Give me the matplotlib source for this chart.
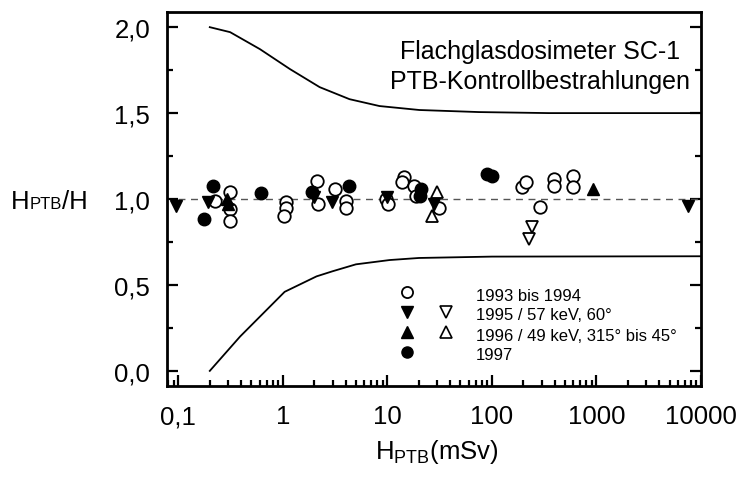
import matplotlib
matplotlib.use('Agg')
import matplotlib.pyplot as plt
from matplotlib.ticker import FixedLocator, FixedFormatter, LogLocator, MultipleLocator, NullFormatter
import numpy as np

plt.rcParams['font.family'] = ['Liberation Sans', 'DejaVu Sans']
plt.rcParams['mathtext.fontset'] = 'custom'
plt.rcParams['mathtext.rm'] = 'Liberation Sans'
plt.rcParams['mathtext.it'] = 'Liberation Sans'

# Tolerance limits (trumpet curve)
upper_h = [0.2, 0.313, 0.604, 1.17, 2.25, 4.34, 8.4, 20.2, 75, 350, 10000]
upper_v = [2.0, 1.971, 1.872, 1.756, 1.651, 1.581, 1.541, 1.518, 1.506, 1.5, 1.5]
lower_h = [0.2, 0.39, 1.04, 2.1, 3.0, 5.0, 10.5, 20, 100, 10000]
lower_v = [0.0, 0.2, 0.46, 0.55, 0.58, 0.62, 0.645, 0.657, 0.665, 0.667]

# 1993 bis 1994 (open circles)
h_9394 = [0.225, 0.313, 0.313, 0.313, 1.07, 1.08, 1.02, 2.1, 2.15, 3.13, 3.98, 3.98,
          9.8, 10.1, 14.5, 13.9, 18.1, 18.9, 31, 193, 212, 286, 390, 390, 600, 600]
v_9394 = [0.99, 1.04, 0.94, 0.87, 0.98, 0.95, 0.90, 1.105, 0.97, 1.06, 0.99, 0.95,
          1.0, 0.97, 1.128, 1.10, 1.076, 1.017, 0.95, 1.07, 1.10, 0.953, 1.116, 1.076, 1.134, 1.07]
# 1995 / 57 keV (filled down triangles) and 60 deg (open)
h_95 = [0.094, 0.193, 2.0, 2.93, 10.0, 28, 7500]
v_95 = [0.96, 0.98, 1.01, 0.98, 1.01, 0.97, 0.96]
h_95_60 = [240, 224]
v_95_60 = [0.837, 0.767]
# 1996 / 49 keV (filled up triangles) and 315 bis 45 deg (open)
h_96 = [0.29, 0.30, 916]
v_96 = [1.0, 0.97, 1.06]
h_96_315 = [30, 26.9]
v_96_315 = [1.04, 0.90]
# 1997 (filled circles)
h_97 = [0.177, 0.215, 0.617, 1.89, 4.26, 21.1, 20.5, 89.6, 100]
v_97 = [0.884, 1.076, 1.035, 1.04, 1.076, 1.06, 1.02, 1.145, 1.134]

legend_labels = ['1993 bis 1994', '1995 / 57 keV, 60°', '1996 / 49 keV, 315° bis 45°', '1997']
x_ticks = [0.1, 1, 10, 100, 1000, 10000]
x_ticklabels = ['0,1', '1', '10', '100', '1000', '10000']
y_ticks = [0.0, 0.5, 1.0, 1.5, 2.0]
y_ticklabels = ['0,0', '0,5', '1,0', '1,5', '2,0']

fig = plt.figure(figsize=(7.45, 4.81), dpi=100)
ax = fig.add_axes([0.2242, 0.1954, 0.7168, 0.7782])

ax.plot(upper_h, upper_v, color='black', lw=1.3)
ax.plot(lower_h, lower_v, color='black', lw=1.3)
ax.plot([0.1, 10000], [1.0, 1.0], color='#555555', lw=1.0, dashes=(5, 4))

ms = 9
ax.plot(h_9394, v_9394, 'o', ms=ms, mfc='white', mec='black', mew=1.3, zorder=3)
ax.plot(h_95_60, v_95_60, 'v', ms=ms, mfc='white', mec='black', mew=1.3, zorder=3)
ax.plot(h_96_315, v_96_315, '^', ms=ms, mfc='white', mec='black', mew=1.3, zorder=3)
ax.plot(h_95, v_95, 'v', ms=ms, color='black', zorder=4)
ax.plot(h_96, v_96, '^', ms=ms, color='black', zorder=4)
ax.plot(h_97, v_97, 'o', ms=ms, color='black', zorder=4)

ax.set_xscale('log')
ax.set_xlim(0.078, 10000)
ax.set_ylim(-0.088, 2.09)

ax.xaxis.set_major_locator(FixedLocator(x_ticks))
ax.xaxis.set_major_formatter(FixedFormatter(x_ticklabels))
ax.xaxis.set_minor_locator(LogLocator(base=10, subs=np.arange(2, 10)))
ax.xaxis.set_minor_formatter(NullFormatter())
ax.yaxis.set_major_locator(FixedLocator(y_ticks))
ax.yaxis.set_major_formatter(FixedFormatter(y_ticklabels))
ax.yaxis.set_minor_locator(MultipleLocator(0.25))

for s in ax.spines.values():
    s.set_linewidth(2.0)
ax.tick_params(which='both', direction='in', top=False, right=True, width=1.6)
ax.tick_params(which='major', length=8, labelsize=18.5)
ax.tick_params(which='minor', length=4.5)
ax.tick_params(axis='y', which='major', pad=12)
ax.tick_params(axis='x', which='major', pad=13)

# Legend drawn by hand: two marker columns, then text
tr = ax.transAxes
lx1, lx2, tx = 0.449, 0.522, 0.579
rows = [0.251, 0.198, 0.144, 0.091]
lms = 8
ax.plot([lx1], [rows[0]], 'o', ms=lms, mfc='white', mec='black', mew=1.3, transform=tr, clip_on=False)
ax.plot([lx1], [rows[1]], 'v', ms=lms, color='black', transform=tr, clip_on=False)
ax.plot([lx2], [rows[1]], 'v', ms=lms, mfc='white', mec='black', mew=1.2, transform=tr, clip_on=False)
ax.plot([lx1], [rows[2]], '^', ms=lms, color='black', transform=tr, clip_on=False)
ax.plot([lx2], [rows[2]], '^', ms=lms, mfc='white', mec='black', mew=1.2, transform=tr, clip_on=False)
ax.plot([lx1], [rows[3]], 'o', ms=lms, color='black', transform=tr, clip_on=False)
for r, lab in zip(rows, legend_labels):
    ax.text(tx, r - 0.008, lab, transform=tr, fontsize=12, va='center', ha='left')

ax.text(0.6985, 0.855, 'Flachglasdosimeter SC-1\nPTB-Kontrollbestrahlungen',
        transform=tr, fontsize=18, ha='center', va='center', linespacing=1.3)

# x label with subscript
fig.text(0.587, 0.06, r'$\mathregular{H_{PTB}}$(mSv)', fontsize=18.5, ha='center', va='center')

# y label: H, small PTB on the baseline, /H
renderer = fig.canvas.get_renderer()
base_y = 1 - 209.5 / 481
x0 = 11 / 745
t1 = fig.text(x0, base_y, 'H', fontsize=18.5, va='baseline')
bb = t1.get_window_extent(renderer)
t2 = fig.text(bb.x1 / fig.bbox.width, base_y, 'PTB', fontsize=12, va='baseline')
bb = t2.get_window_extent(renderer)
fig.text(bb.x1 / fig.bbox.width, base_y, '/H', fontsize=18.5, va='baseline')

fig.savefig('out.png', dpi=100)
